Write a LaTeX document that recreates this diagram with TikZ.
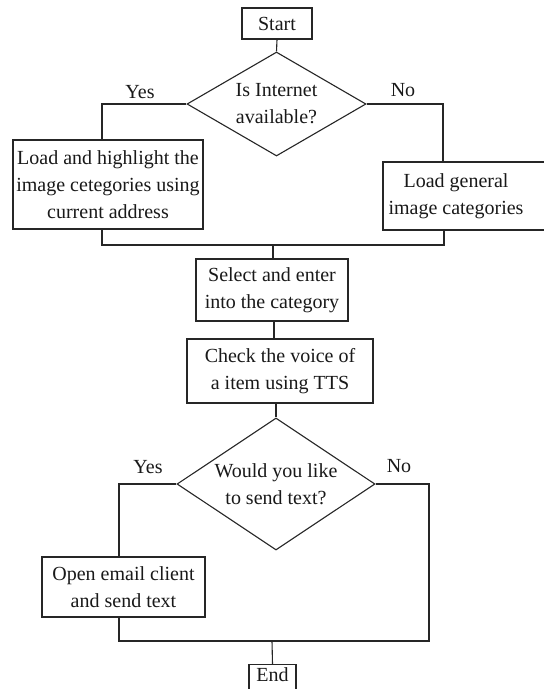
\documentclass[tikz,border=0pt]{standalone}
\usepackage{fontspec}
\setmainfont{Liberation Serif}
\usetikzlibrary{shapes.geometric}
\begin{document}
\begin{tikzpicture}[x=1pt,y=-1pt,
  every node/.style={font=\fontsize{20}{27}\selectfont, text=black!90},
  procbox/.style={draw=black!85, line width=1.1pt, rectangle, inner sep=0pt, align=center},
  decision/.style={draw=black!85, line width=1.1pt, diamond, inner sep=0pt, shape aspect=1.7, align=center},
  lbl/.style={inner sep=0pt},
  conn/.style={draw=black!85, line width=1.1pt}]
\clip (0,0) rectangle (544,689);
\fill[white] (0,0) rectangle (544,689);

\node[procbox, minimum width=70pt, minimum height=31pt] (start) at (277,23.5) {Start};
\node[decision, minimum width=179pt, minimum height=104pt] (d1) at (276.5,104) {Is Internet\\available?};
\node[lbl] (yes1) at (140,92) {Yes};
\node[lbl] (no1) at (403,90) {No};
\node[procbox, minimum width=190pt, minimum height=89pt] (lbox) at (108,184.5) {Load and highlight the\\image cetegories using\\current address};
\node[procbox, minimum width=180pt, minimum height=68pt] (rbox) at (473,196) {\begin{tabular}{@{}c@{}}Load general\\image categories\end{tabular}\hspace*{34pt}};
\coordinate (m1) at (273,245);
\node[procbox, minimum width=152pt, minimum height=62pt] (sel) at (272,290) {Select and enter\\into the category};
\node[procbox, minimum width=186pt, minimum height=64pt] (chk) at (280,371) {Check the voice of\\a item using TTS};
\node[decision, minimum width=198pt, minimum height=132pt] (d2) at (276,484) {Would you like\\to send text?};
\node[lbl] (yes2) at (148,467) {Yes};
\node[lbl] (no2) at (399,466) {No};
\node[procbox, minimum width=163pt, minimum height=60pt] (obox) at (123.5,587) {Open email client\\and send text};
\coordinate (nl) at (119,641);
\coordinate (nr) at (429,641);
\coordinate (m2) at (272,641);
\node[procbox, anchor=north, minimum width=47pt, inner ysep=3pt, text depth=16pt] (end) at (272.5,664) {End};

\draw[conn] (start.south) -- (d1.north);
\draw[conn] (d1.west) -| ([xshift=-6pt]lbox.north);
\draw[conn] (d1.east) -| ([xshift=-30pt]rbox.north);
\draw[conn] ([xshift=-6pt]lbox.south) |- (m1) -| ([xshift=-29pt]rbox.south);
\draw[conn] (m1) -- (m1 |- sel.north);
\draw[conn] ([xshift=2pt]sel.south) -- ([xshift=2pt]sel.south |- chk.north);
\draw[conn] (chk.south -| d2.north) -- (d2.north);
\draw[conn] (d2.west) -| (obox.north -| nl);
\draw[conn] (d2.east) -| (nr) -- (nl) -- (obox.south -| nl);
\draw[conn] (m2) -- (end.north);
\end{tikzpicture}
\end{document}
